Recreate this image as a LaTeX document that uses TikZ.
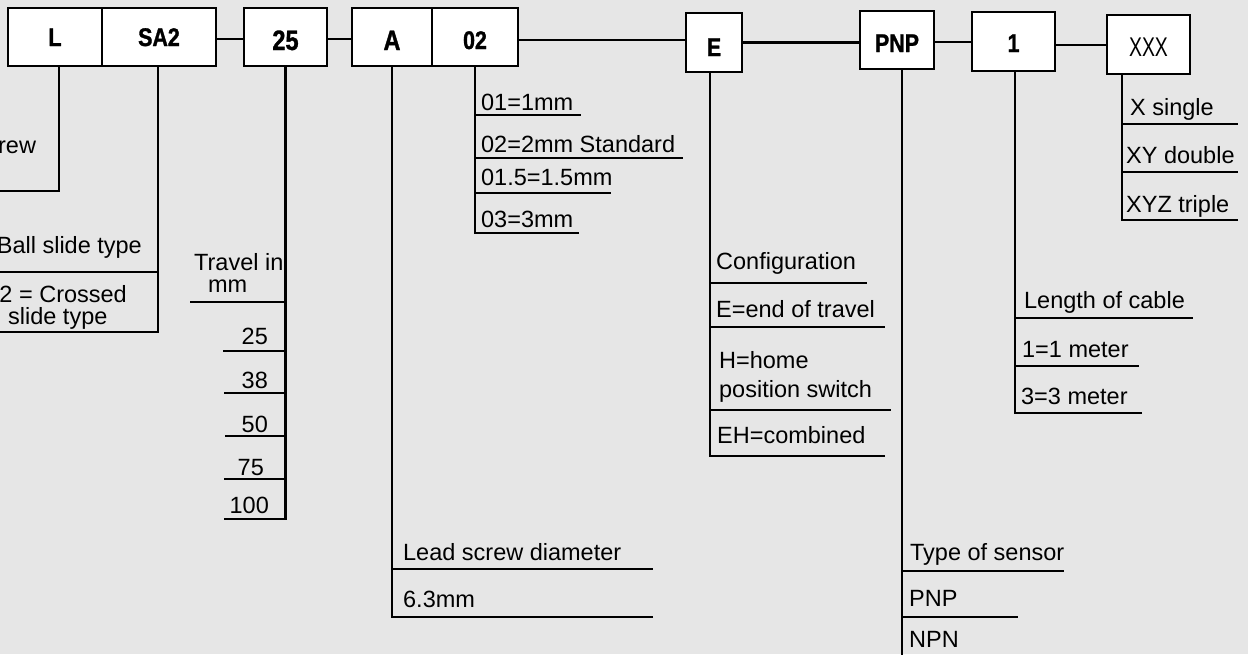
\documentclass[tikz,border=0pt]{standalone}
\usepackage{fontspec}
\setmainfont{Liberation Sans}
\newfontfamily\boxfont{Liberation Sans}[FakeStretch=0.84,BoldFeatures={FakeBold=1.2}]
\newfontfamily\xfont{Liberation Sans}[FakeStretch=0.72]
\definecolor{bgc}{RGB}{230,230,230}
\begin{document}
\begin{tikzpicture}[x=1pt,y=-1pt,line width=2.3pt,
  bx/.style={draw,fill=white,inner sep=0pt,text height=24pt,text depth=0pt,
             font=\boxfont\bfseries\fontsize{25.5}{26}\selectfont},
  bigbx/.style={bx,text height=26pt,font=\boxfont\bfseries\fontsize{28}{28}\selectfont},
  lbl/.style={anchor=base west,inner sep=0pt,font=\fontsize{23.5}{26}\selectfont},
  lble/.style={lbl,anchor=base east}]
\useasboundingbox (0,0) rectangle (1248,654);
\fill[bgc] (0,0) rectangle (1248,654);

% ---- boxes ----
\node[bx,text height=18pt,minimum width=94pt,minimum height=58pt] (L) at (55,37) {L};
\node[bx,text height=18pt,minimum width=114pt,minimum height=58pt] (SA2) at (159,37) {SA2};
\node[bigbx,minimum width=83pt,minimum height=58pt] (b25) at (285.5,37) {25};
\node[bigbx,minimum width=80pt,minimum height=58pt] (A) at (392,37) {A};
\node[bx,minimum width=86pt,minimum height=58pt] (b02) at (475,37) {02};
\node[bx,text height=27pt,minimum width=56pt,minimum height=59pt] (E) at (714,42.5) {E};
\node[bx,minimum width=74pt,minimum height=58pt] (PNP) at (897,40) {PNP};
\node[bx,text height=21pt,minimum width=83pt,minimum height=59pt] (b1) at (1013.5,41.5) {1};
\node[draw,fill=white,inner sep=0pt,text height=24.5pt,text depth=0pt,
      minimum width=83pt,minimum height=59pt,
      font=\xfont\fontsize{27}{27}\selectfont] (X) at (1148.5,44.5) {XXX};

% ---- connectors between boxes ----
\coordinate (c1) at ([yshift=-2pt]SA2.east);
\coordinate (c2) at ([yshift=-2pt]b25.east);
\coordinate (c3) at ([yshift=-3pt]b02.east);
\coordinate (c4) at ([yshift=-2pt]PNP.east);
\coordinate (c5) at ([yshift=-3.5pt]b1.east);
\draw (c1) -- (b25.west |- c1);
\draw (c2) -- (A.west |- c2);
\draw (c3) -- (E.west |- c3);
\draw (E.east) -- (PNP.west |- E.east);
\draw (c4) -- (b1.west |- c4);
\draw (c5) -- (X.west |- c5);

% ---- L ----
\draw ([xshift=4pt]L.south) |- (0,191);
\node[lbl] (tL) at (-3,153) {rew};

% ---- SA2 ----
\draw (0,332) -| ([xshift=-1pt]SA2.south);
\draw (0,272) -- (158,272);
\node[lble] (tS1) at (143,253) {Ball slide type};
\node[lble] (tS2) at (128,302) {2 = Crossed};
\node[lbl] (tS3) at (7,324) {slide type};

% ---- 25 ----
\draw (224,519) -| (b25.south);
\draw (190,302) -- (285.5,302);
\draw (223,351) -- (285.5,351);
\draw (224,393) -- (285.5,393);
\draw (225,436) -- (285.5,436);
\draw (224,479) -- (285.5,479);
\node[lbl] (tT1) at (193,270) {Travel in};
\node[lbl] (tT2) at (207,292) {mm};
\node[lble] (t25) at (269,344) {25};
\node[lble] (t38) at (269,388) {38};
\node[lble] (t50) at (269,432) {50};
\node[lble] (t75) at (265,475) {75};
\node[lble] (t100) at (270,513) {100};

% ---- A ----
\draw (653,617) -| (A.south);
\draw (392,569) -- (653,569);
\node[lbl] (tA1) at (402,560) {Lead screw diameter};
\node[lbl] (tA2) at (402,607) {6.3mm};

% ---- 02 ----
\draw (579,233) -| (b02.south);
\draw (475,115) -- (581,115);
\draw (475,158) -- (683,158);
\draw (475,193) -- (611,193);
\node[lbl] (t01) at (480,110) {01=1mm};
\node[lbl] (t02) at (480,152) {02=2mm Standard};
\node[lbl] (t015) at (480,185) {01.5=1.5mm};
\node[lbl] (t03) at (480,227) {03=3mm};

% ---- E ----
\draw (885,456) -| ([xshift=-4pt]E.south);
\draw (710,283) -- (867,283);
\draw (710,327) -- (885,327);
\draw (710,410) -- (891,410);
\node[lbl] (tE1) at (715,269) {Configuration};
\node[lbl] (tE2) at (715,317) {E=end of travel};
\node[lbl] (tE3) at (718,368) {H=home};
\node[lbl] (tE4) at (718,397) {position switch};
\node[lbl] (tE5) at (716,443) {EH=combined};

% ---- PNP ----
\draw ([xshift=5pt]PNP.south) -- (902,660);
\draw (902,571) -- (1064,571);
\draw (902,617) -- (1018,617);
\node[lbl] (tP1) at (909,560) {Type of sensor};
\node[lbl] (tP2) at (908,606) {PNP};
\node[lbl] (tP3) at (908,647) {NPN};

% ---- 1 ----
\draw (1142,413) -| ([xshift=1.5pt]b1.south);
\draw (1015,318) -- (1193,318);
\draw (1015,366) -- (1139,366);
\node[lbl] (tC1) at (1023,308) {Length of cable};
\node[lbl] (tC2) at (1021,357) {1=1 meter};
\node[lbl] (tC3) at (1020,404) {3=3 meter};

% ---- XXX ----
\draw (1238,220) -| ([xshift=16pt]X.south west);
\draw (1123,124) -- (1238,124);
\draw (1123,172) -- (1238,172);
\node[lbl] (tX1) at (1129,115) {X single};
\node[lbl] (tX2) at (1125,163) {XY double};
\node[lbl] (tX3) at (1125,212) {XYZ triple};
\end{tikzpicture}
\end{document}
